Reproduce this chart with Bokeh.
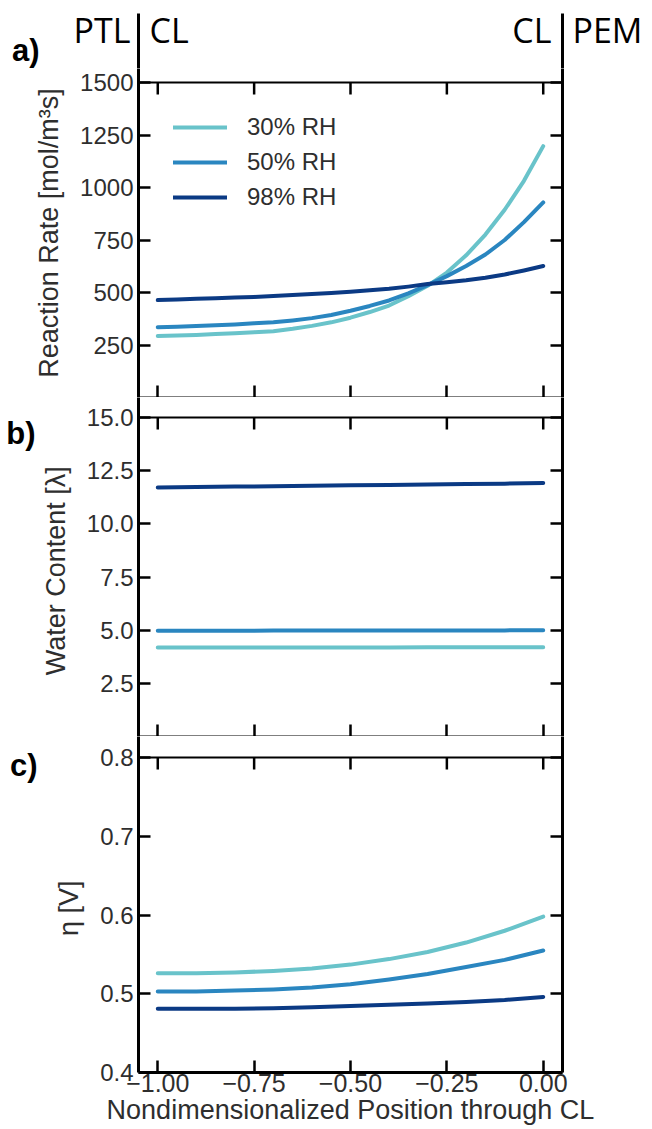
import math
from bokeh.plotting import figure
from bokeh.layouts import column
from bokeh.models import Range1d, FixedTicker, LinearAxis, CustomJSTickFormatter, Span
from bokeh.embed import file_html
from bokeh.resources import INLINE
from bokeh.core.properties import value

# ---------------- data ----------------
series_names = ["30% RH", "50% RH", "98% RH"]
series_colors = ["#69c3ca", "#2a86c0", "#0b3a84"]

x_rate = [-1.00, -0.95, -0.90, -0.85, -0.80, -0.75, -0.70, -0.65, -0.60, -0.55, -0.50,
          -0.45, -0.40, -0.35, -0.30, -0.25, -0.20, -0.15, -0.10, -0.05, 0.00]
rate_30 = [293, 295, 298, 302, 306, 311, 316, 327, 341, 358, 380, 407, 438, 482, 532,
           595, 677, 776, 894, 1032, 1197]
rate_50 = [335, 337, 340, 344, 348, 353, 358, 367, 378, 393, 413, 436, 462, 496, 535,
           578, 626, 681, 750, 835, 929]
rate_98 = [464, 467, 470, 473, 476, 479, 483, 488, 493, 498, 504, 511, 518, 528, 540,
           549, 558, 570, 586, 605, 626]

x_coarse = [-1.0, -0.9, -0.8, -0.7, -0.6, -0.5, -0.4, -0.3, -0.2, -0.1, 0.0]
lam_30 = [4.18, 4.18, 4.18, 4.19, 4.19, 4.19, 4.19, 4.20, 4.20, 4.20, 4.20]
lam_50 = [4.97, 4.97, 4.97, 4.98, 4.98, 4.98, 4.98, 4.99, 4.99, 4.99, 5.00]
lam_98 = [11.71, 11.73, 11.75, 11.77, 11.79, 11.81, 11.83, 11.85, 11.87, 11.89, 11.92]

eta_30 = [0.526, 0.526, 0.527, 0.529, 0.532, 0.537, 0.544, 0.553, 0.565, 0.580, 0.598]
eta_50 = [0.503, 0.503, 0.504, 0.5055, 0.508, 0.512, 0.518, 0.525, 0.534, 0.543, 0.555]
eta_98 = [0.481, 0.481, 0.481, 0.4815, 0.483, 0.4845, 0.486, 0.4875, 0.4895, 0.492, 0.496]

x_ticks = [-1.0, -0.75, -0.5, -0.25, 0.0]
x_tick_labels = ["\u22121.00", "\u22120.75", "\u22120.50", "\u22120.25", "0.00"]
rate_ticks = [250, 500, 750, 1000, 1250, 1500]
rate_tick_labels = ["250", "500", "750", "1000", "1250", "1500"]
lam_ticks = [2.5, 5.0, 7.5, 10.0, 12.5, 15.0]
lam_tick_labels = ["2.5", "5.0", "7.5", "10.0", "12.5", "15.0"]
eta_ticks = [0.4, 0.5, 0.6, 0.7, 0.8]
eta_tick_labels = ["0.4", "0.5", "0.6", "0.7", "0.8"]

x_title = "Nondimensionalized Position through CL"
rate_title = "Reaction Rate [mol/m\u00b3s]"
lam_title = "Water Content  [\u03bb]"
eta_title = "\u03b7  [V]"
header_left, header_mid_left, header_mid_right, header_right = "PTL", "CL", "CL", "PEM"
panel_tags = ["a)", "b)", "c)"]

# ---------------- layout constants (pixels) ----------------
FONT = "Liberation Sans"
HEAD_FONT = "Open Sans"
X_START, X_END = -1.05, 0.05
FRAME_W = 424
BORDER_L, BORDER_R = 138, 90
HEADER_TOP, HEADER_FRAME = 13, 55          # header frame: page y 13 .. 68
HEAD_TEXT_Y = 39                           # header text centre, px above header frame bottom
PA_PAD, PB_PAD, PC_PAD = 14, 20, 21        # white space above each panel box (inside frame)
PA_H, PB_H, PC_H = 315, 319, 315           # panel box heights
TEXT_COLOR = "#2e2e2e"


def fmt(vals, names):
    return CustomJSTickFormatter(
        args=dict(tick_vals=vals, tick_names=names),
        code="const i = tick_vals.findIndex(t => Math.abs(t - tick) < 1e-9); return i >= 0 ? tick_names[i] : '';")


def style_axis(ax, width, tick_len=12):
    ax.axis_line_color = "black"
    ax.axis_line_width = width
    ax.major_tick_line_color = "black" if tick_len else None
    ax.major_tick_line_width = 2.5
    ax.major_tick_in = tick_len
    ax.major_tick_out = 0
    ax.minor_tick_line_color = None
    ax.minor_tick_in = 0
    ax.minor_tick_out = 0


def hide_labels(ax):
    ax.major_label_text_font_size = "0px"
    ax.major_label_standoff = 0
    ax.axis_label = None


def tag_axis(ticks, names, standoff, font, size, bold, line=False):
    ax = LinearAxis(ticker=FixedTicker(ticks=ticks), formatter=fmt(ticks, names))
    style_axis(ax, 3, tick_len=0)
    if not line:
        ax.axis_line_color = None
    ax.major_label_text_font = font
    ax.major_label_text_font_size = size
    ax.major_label_text_font_style = "bold" if bold else "normal"
    ax.major_label_text_color = "black"
    ax.major_label_standoff = standoff
    ax.axis_label = None
    return ax


def base_fig(frame_h, y_start, y_end, top=0):
    p = figure(title=None, frame_width=FRAME_W, frame_height=frame_h,
               x_range=Range1d(X_START, X_END), y_range=Range1d(y_start, y_end),
               output_backend="svg", toolbar_location=None,
               x_axis_location=None, y_axis_location=None,
               min_border_left=BORDER_L, min_border_right=BORDER_R,
               min_border_top=top, min_border_bottom=0,
               outline_line_color=None, border_fill_color="white",
               background_fill_color="white")
    for g in p.grid:
        g.visible = False
    return p


def panel(box_h, pad, y_start, y_end, y_ticks, y_labels, y_title, bottom_labels=False):
    # frame = white pad above + the panel box; the box top is drawn as a span with ticks
    y_top_frame = y_end + pad * (y_end - y_start) / box_h
    p = base_fig(box_h + pad, y_start, y_top_frame)

    left = LinearAxis(ticker=FixedTicker(ticks=y_ticks), formatter=fmt(y_ticks, y_labels),
                      axis_label=y_title)
    style_axis(left, 3)
    left.major_label_text_font = FONT
    left.major_label_text_font_size = "24px"
    left.major_label_text_color = TEXT_COLOR
    left.major_label_standoff = 5
    left.axis_label_text_font = FONT
    left.axis_label_text_font_size = "27px"
    left.axis_label_text_font_style = "normal"
    left.axis_label_text_color = TEXT_COLOR
    left.axis_label_standoff = 13
    p.add_layout(left, "left")

    right = LinearAxis(ticker=FixedTicker(ticks=y_ticks))
    style_axis(right, 3)
    hide_labels(right)
    p.add_layout(right, "right")

    # top edge of the box, with inward ticks
    p.add_layout(Span(location=y_end, dimension="width", line_color="black", line_width=2))
    p.ray(x=x_ticks, y=[y_end] * len(x_ticks), length=12, length_units="screen",
          angle=-math.pi / 2, line_color="black", line_width=2.5)

    bottom = LinearAxis(ticker=FixedTicker(ticks=x_ticks), formatter=fmt(x_ticks, x_tick_labels))
    if bottom_labels:
        style_axis(bottom, 3)
        bottom.major_label_text_font = FONT
        bottom.major_label_text_font_size = "25px"
        bottom.major_label_text_color = TEXT_COLOR
        bottom.major_label_standoff = 1
        bottom.axis_label = x_title
        bottom.axis_label_text_font = FONT
        bottom.axis_label_text_font_size = "27px"
        bottom.axis_label_text_font_style = "normal"
        bottom.axis_label_text_color = TEXT_COLOR
        bottom.axis_label_standoff = 0
    else:
        style_axis(bottom, 2)
        hide_labels(bottom)
    p.add_layout(bottom, "below")
    return p


# ---------------- header ----------------
header = base_fig(HEADER_FRAME, 0, HEADER_FRAME, top=HEADER_TOP)
header.add_layout(tag_axis([HEAD_TEXT_Y], [header_left], 8, HEAD_FONT, "34px", False, line=True), "left")
header.add_layout(tag_axis([18], [panel_tags[0]], 31, FONT, "31px", True), "left")
header.add_layout(tag_axis([HEAD_TEXT_Y], [header_right], 10, HEAD_FONT, "34px", False, line=True), "right")
header.text(x=[X_START, X_END], y=[HEAD_TEXT_Y, HEAD_TEXT_Y], text=[header_mid_left, header_mid_right],
            x_offset=[11, -11], text_align=["left", "right"],
            text_baseline="middle", text_font=value(HEAD_FONT),
            text_font_size="34px", text_color="black")

# ---------------- panel a ----------------
pa = panel(PA_H, PA_PAD, 0, 1500, rate_ticks, rate_tick_labels, rate_title)
for ys, name, col in zip([rate_30, rate_50, rate_98], series_names, series_colors):
    pa.line(x_rate, ys, line_width=4, line_color=col, line_cap="round", line_join="round",
            legend_label=name)
lg = pa.legend[0]
lg.location = (35, 186)
lg.border_line_color = None
lg.background_fill_alpha = 0
lg.margin = 0
lg.padding = 0
lg.glyph_width = 54
lg.glyph_height = 28
lg.label_height = 28
lg.label_standoff = 20
lg.spacing = 7
lg.label_text_font = FONT
lg.label_text_font_size = "24px"
lg.label_text_color = TEXT_COLOR

# ---------------- panel b ----------------
pb = panel(PB_H, PB_PAD, 0, 15, lam_ticks, lam_tick_labels, lam_title)
for ys, col in zip([lam_30, lam_50, lam_98], series_colors):
    pb.line(x_coarse, ys, line_width=4, line_color=col, line_cap="round", line_join="round")
pb.add_layout(tag_axis([15 - 16 * 15 / PB_H], [panel_tags[1]], 2, FONT, "31px", True), "left")

# ---------------- panel c ----------------
pc = panel(PC_H, PC_PAD, 0.4, 0.8, eta_ticks, eta_tick_labels, eta_title, bottom_labels=True)
for ys, col in zip([eta_30, eta_50, eta_98], series_colors):
    pc.line(x_coarse, ys, line_width=4, line_color=col, line_cap="round", line_join="round")
pc.add_layout(tag_axis([0.8 - 8 * 0.4 / PC_H], [panel_tags[2]], 14, FONT, "31px", True), "left")

layout = column(header, pa, pb, pc, spacing=0)

open("out.html", "w").write(file_html(layout, INLINE))
